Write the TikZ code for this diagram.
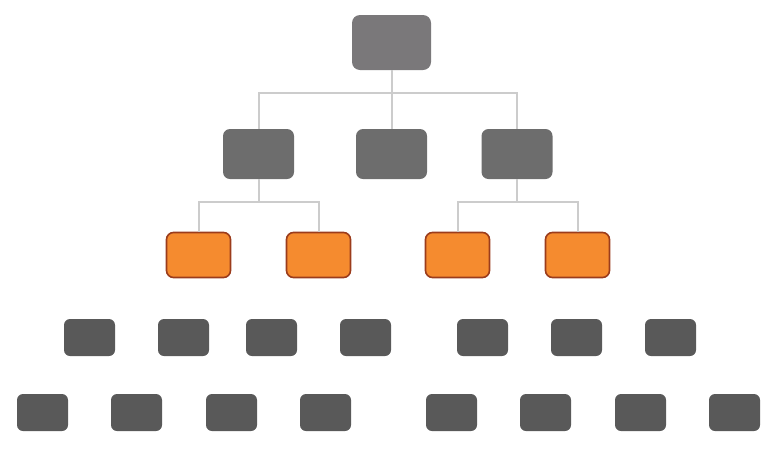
\documentclass[tikz,border=0pt]{standalone}
\usepackage{tikz}
\usetikzlibrary{positioning,calc}
\definecolor{boxTop}{RGB}{122,120,122}
\definecolor{boxMid}{RGB}{109,109,109}
\definecolor{boxLow}{RGB}{89,89,89}
\definecolor{boxOrange}{RGB}{245,139,47}
\definecolor{edgeOrange}{RGB}{155,60,28}
\definecolor{linkGray}{RGB}{204,204,204}

\begin{document}
\begin{tikzpicture}[x=1pt, y=-1pt,
    box/.style={rectangle, inner sep=0pt, draw=none},
    topbox/.style={box, fill=boxTop, minimum width=79pt, minimum height=55pt, rounded corners=8pt},
    midbox/.style={box, fill=boxMid, minimum width=71pt, minimum height=50pt, rounded corners=7pt},
    hotbox/.style={box, fill=boxOrange, draw=edgeOrange, line width=1.6pt, minimum width=64pt, minimum height=45pt, rounded corners=7pt},
    lowbox/.style={box, fill=boxLow, minimum width=51pt, minimum height=37pt, rounded corners=6pt},
    link/.style={draw=linkGray, line width=2pt}]
  \useasboundingbox (0,0) rectangle (768,448);

  % top and second row
  \node[topbox] (root) at (391.5,42.5) {};
  \foreach \n/\x in {1/258.5, 2/391.5, 3/517}
    \node[midbox] (mid\n) at (\x,154) {};

  % orange row
  \foreach \n/\x in {1/198.5, 2/318.5, 3/457.5, 4/577.5}
    \node[hotbox] (hot\n) at (\x,255) {};

  % bottom rows
  \foreach \n/\x in {1/89.5, 2/183.5, 3/271.5, 4/365.5, 5/482.5, 6/576.5, 7/670.5}
    \node[lowbox] (rowA\n) at (\x,337.5) {};
  \foreach \n/\x in {1/42.5, 2/136.5, 3/231.5, 4/325.5, 5/451.5, 6/545.5, 7/640.5, 8/734.5}
    \node[lowbox] (rowB\n) at (\x,412.5) {};

  % links
  \coordinate (j0) at (391.5,93);
  \coordinate (j1) at (258.5,202);
  \coordinate (j3) at (517,202);
  \draw[link] (root.south) -- (mid2.north);
  \draw[link] (mid1.north) |- (j0) -| (mid3.north);
  \draw[link] (mid1.south) -- (j1);
  \draw[link] (hot1.north) |- (j1) -| (hot2.north);
  \draw[link] (mid3.south) -- (j3);
  \draw[link] (hot3.north) |- (j3) -| (hot4.north);
\end{tikzpicture}
\end{document}
